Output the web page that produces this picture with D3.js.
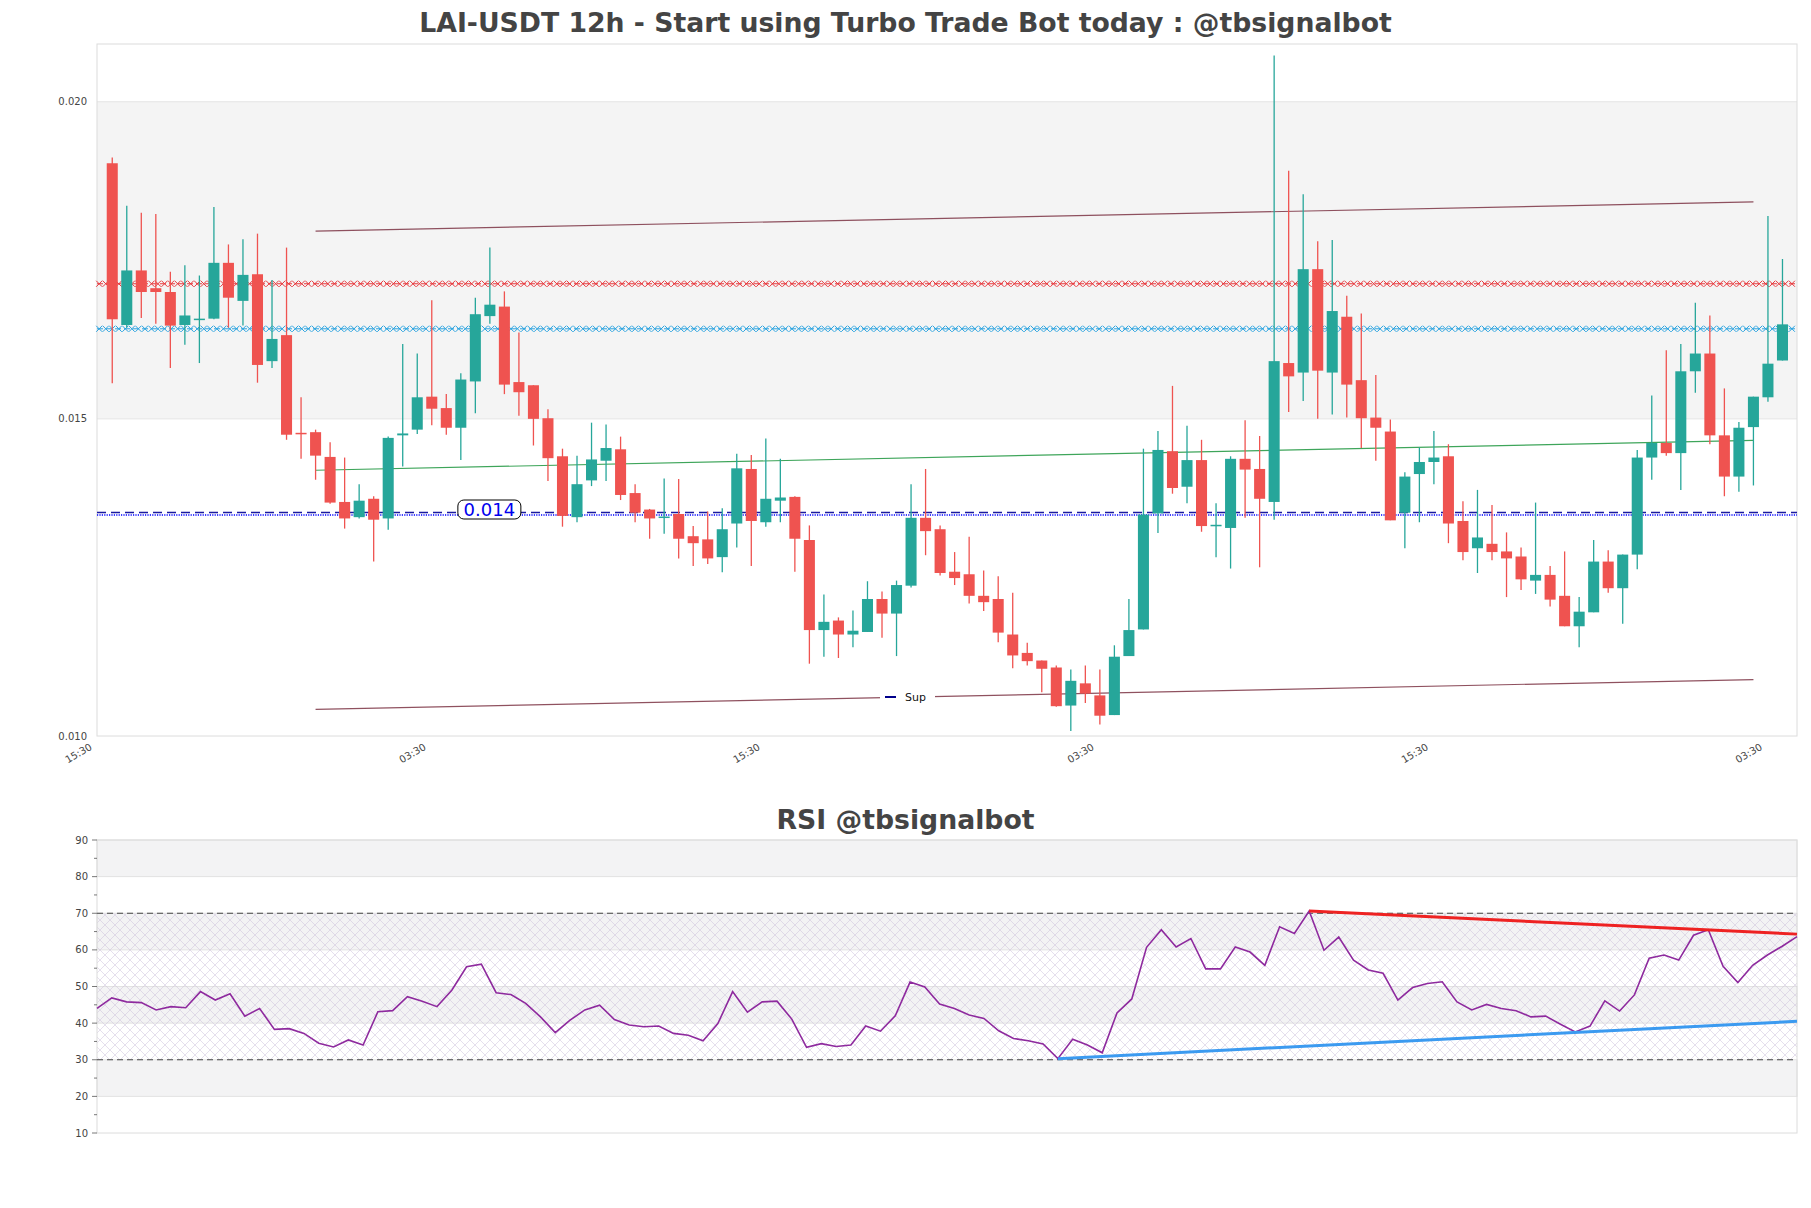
<!DOCTYPE html>
<head>
<meta charset="utf-8">
<style>
body { margin: 0; background: #fff; }
text { font-family: "DejaVu Sans", sans-serif; }
</style>
</head>
<body>
<script src="https://d3js.org/d3.v7.min.js"></script>
<script>
// figure size
var width = 1811;
var height = 1208;

// candle data, 12h, oldest first
var opens = [0.01903,0.01648,0.01734,0.01706,0.01700,0.01648,0.01656,0.01658,0.01746,0.01686,
  0.01728,0.01591,0.01632,0.01478,0.01479,0.01440,0.01369,0.01345,0.01374,0.01343,
  0.01474,0.01483,0.01535,0.01517,0.01486,0.01559,0.01662,0.01677,0.01558,0.01553,
  0.01501,0.01441,0.01345,0.01403,0.01434,0.01452,0.01383,0.01357,0.01344,0.01350,
  0.01315,0.01310,0.01282,0.01335,0.01421,0.01337,0.01371,0.01377,0.01309,0.01167,
  0.01182,0.01160,0.01164,0.01216,0.01193,0.01237,0.01344,0.01326,0.01259,0.01255,
  0.01221,0.01216,0.01160,0.01131,0.01119,0.01108,0.01048,0.01083,0.01064,0.01033,
  0.01126,0.01168,0.01351,0.01449,0.01393,0.01435,0.01331,0.01328,0.01437,0.01421,
  0.01369,0.01588,0.01573,0.01736,0.01573,0.01661,0.01561,0.01502,0.01480,0.01352,
  0.01413,0.01432,0.01441,0.01339,0.01296,0.01303,0.01291,0.01283,0.01245,0.01254,
  0.01221,0.01173,0.01195,0.01275,0.01233,0.01286,0.01439,0.01462,0.01446,0.01575,
  0.01603,0.01474,0.01409,0.01487,0.01534,0.01592];
var highs = [0.01912,0.01836,0.01825,0.01823,0.01732,0.01742,0.01726,0.01834,0.01775,0.01783,
  0.01792,0.01719,0.01770,0.01534,0.01483,0.01463,0.01439,0.01397,0.01378,0.01472,
  0.01618,0.01603,0.01687,0.01539,0.01572,0.01691,0.01770,0.01701,0.01636,0.01553,
  0.01515,0.01453,0.01442,0.01494,0.01491,0.01472,0.01397,0.01358,0.01406,0.01405,
  0.01331,0.01354,0.01359,0.01445,0.01443,0.01469,0.01437,0.01378,0.01332,0.01223,
  0.01187,0.01198,0.01244,0.01228,0.01245,0.01397,0.01421,0.01332,0.01290,0.01314,
  0.01261,0.01252,0.01226,0.01147,0.01119,0.01111,0.01105,0.01111,0.01105,0.01143,
  0.01216,0.01453,0.01481,0.01552,0.01489,0.01467,0.01367,0.01441,0.01498,0.01473,
  0.02073,0.01891,0.01854,0.01780,0.01782,0.01694,0.01666,0.01569,0.01499,0.01416,
  0.01455,0.01481,0.01460,0.01370,0.01388,0.01364,0.01321,0.01297,0.01368,0.01268,
  0.01291,0.01219,0.01309,0.01293,0.01286,0.01451,0.01537,0.01608,0.01618,0.01683,
  0.01663,0.01548,0.01495,0.01535,0.01820,0.01752];
var lows = [0.01556,0.01644,0.01659,0.01650,0.01580,0.01617,0.01588,0.01657,0.01644,0.01647,
  0.01557,0.01580,0.01467,0.01437,0.01404,0.01366,0.01327,0.01343,0.01275,0.01325,
  0.01425,0.01476,0.01490,0.01475,0.01435,0.01509,0.01650,0.01539,0.01505,0.01458,
  0.01402,0.01330,0.01337,0.01394,0.01402,0.01372,0.01337,0.01311,0.01319,0.01280,
  0.01268,0.01271,0.01258,0.01297,0.01268,0.01330,0.01337,0.01259,0.01114,0.01125,
  0.01123,0.01140,0.01164,0.01155,0.01126,0.01234,0.01285,0.01253,0.01238,0.01209,
  0.01197,0.01148,0.01107,0.01111,0.01069,0.01046,0.01008,0.01052,0.01018,0.01033,
  0.01126,0.01168,0.01320,0.01382,0.01367,0.01322,0.01282,0.01264,0.01344,0.01266,
  0.01341,0.01511,0.01528,0.01500,0.01507,0.01502,0.01454,0.01434,0.01340,0.01296,
  0.01337,0.01397,0.01304,0.01277,0.01257,0.01277,0.01219,0.01230,0.01224,0.01204,
  0.01173,0.01140,0.01195,0.01226,0.01177,0.01263,0.01404,0.01442,0.01388,0.01541,
  0.01460,0.01378,0.01385,0.01395,0.01527,0.01592];
var closes = [0.01657,0.01734,0.01700,0.01700,0.01647,0.01663,0.01658,0.01746,0.01691,0.01727,
  0.01585,0.01626,0.01475,0.01476,0.01442,0.01368,0.01343,0.01371,0.01341,0.01470,
  0.01477,0.01534,0.01516,0.01486,0.01562,0.01665,0.01680,0.01554,0.01542,0.01500,
  0.01438,0.01347,0.01397,0.01436,0.01454,0.01380,0.01352,0.01343,0.01346,0.01311,
  0.01304,0.01280,0.01326,0.01422,0.01339,0.01374,0.01376,0.01311,0.01167,0.01180,
  0.01160,0.01166,0.01216,0.01193,0.01238,0.01344,0.01323,0.01257,0.01249,0.01221,
  0.01211,0.01163,0.01127,0.01118,0.01106,0.01047,0.01087,0.01067,0.01032,0.01125,
  0.01167,0.01349,0.01451,0.01391,0.01435,0.01331,0.01333,0.01437,0.01420,0.01374,
  0.01591,0.01567,0.01736,0.01576,0.01670,0.01554,0.01501,0.01486,0.01340,0.01409,
  0.01432,0.01439,0.01335,0.01290,0.01313,0.01290,0.01280,0.01247,0.01254,0.01215,
  0.01173,0.01196,0.01275,0.01233,0.01286,0.01439,0.01462,0.01446,0.01575,0.01603,
  0.01474,0.01409,0.01486,0.01535,0.01587,0.01649];

// rsi values, one per candle
var rsi = [44.0,46.9,45.8,45.6,43.6,44.5,44.2,48.6,46.3,48.0,
  41.9,44.0,38.3,38.5,37.2,34.5,33.5,35.4,34.0,43.1,
  43.4,47.2,46.0,44.5,49.0,55.4,56.1,48.3,47.8,45.4,
  41.7,37.4,40.8,43.6,44.9,41.0,39.5,39.0,39.2,37.2,
  36.7,35.2,39.9,48.6,43.0,45.8,46.0,41.1,33.4,34.4,
  33.6,34.0,39.2,37.8,42.0,51.2,49.9,45.2,44.0,42.2,
  41.3,37.9,35.8,35.2,34.3,30.3,35.6,34.0,31.9,42.8,
  46.6,60.7,65.5,60.8,63.1,54.8,54.8,60.8,59.4,55.8,
  66.3,64.5,70.6,59.9,63.5,57.2,54.5,53.6,46.3,49.7,
  50.8,51.3,45.8,43.6,45.1,44.0,43.4,41.7,41.9,39.7,
  37.6,39.2,46.1,43.3,47.7,57.7,58.6,57.2,64.0,65.5,
  55.5,51.1,55.8,58.6,61.0,63.6];

// horizontal levels and trend lines (candle index, price)
var resistLevel = 0.01713;
var resistLevel2 = 0.01642;
var supportLevel = 0.01350;
var supportLabel = '0.014';
var upperChannel = [[14, 0.01796], [113, 0.01842]];
var lowerChannel = [[14, 0.01042], [113, 0.01089]];
var midLine = [[14, 0.01419], [113, 0.01466]];
var rsiHighLine = [[82, 70.6], [115, 64.3]];
var rsiLowLine = [[65, 30.3], [115, 40.5]];

var yTicks = [0.010, 0.015, 0.020];
var xTickIdx = [-1, 22, 45, 68, 91, 114];
var xTickLabels = ['15:30', '03:30', '15:30', '03:30', '15:30', '03:30'];
var rsiTicks = [10, 20, 30, 40, 50, 60, 70, 80, 90];

var plot = { left: 97, right: 1797, top: 44, bottom: 736 };
var rsiPlot = { left: 97, right: 1797, top: 840, bottom: 1133 };

var upColor = '#26a69a', downColor = '#ef5350';

var svg = d3.select('body').append('svg')
  .attr('width', width).attr('height', height)
  .style('background', '#fff');

var defs = svg.append('defs');
var hatch = defs.append('pattern')
  .attr('id', 'hatch').attr('patternUnits', 'userSpaceOnUse')
  .attr('width', 10).attr('height', 10);
hatch.append('path').attr('d', 'M0,0L10,10M10,0L0,10M-1,9L1,11M9,-1L11,1')
  .attr('stroke', '#c9bcd9').attr('stroke-width', 0.6).attr('fill', 'none');

var xScale = d3.scaleLinear().domain([-1.05, 116.0]).range([plot.left, plot.right]);
var yScale = d3.scaleLinear().domain([0.010, 0.02091]).range([plot.bottom, plot.top]);
var xr = d3.scaleLinear().domain([0, rsi.length - 1]).range([rsiPlot.left, rsiPlot.right]);
var yr = d3.scaleLinear().domain([10, 90]).range([rsiPlot.bottom, rsiPlot.top]);

// ---------- price panel ----------
svg.append('text')
  .attr('x', width / 2).attr('y', 32)
  .attr('text-anchor', 'middle')
  .attr('font-size', 26.7).attr('font-weight', 'bold').attr('fill', '#444')
  .text('LAI-USDT 12h - Start using Turbo Trade Bot today : @tbsignalbot');

svg.append('rect')
  .attr('x', plot.left).attr('y', yScale(0.020))
  .attr('width', plot.right - plot.left)
  .attr('height', yScale(0.015) - yScale(0.020))
  .attr('fill', '#f4f4f4');
svg.append('g').selectAll('line').data([0.015, 0.020]).enter().append('line')
  .attr('x1', plot.left).attr('x2', plot.right)
  .attr('y1', function(d){ return yScale(d); }).attr('y2', function(d){ return yScale(d); })
  .attr('stroke', '#e4e4e4').attr('stroke-width', 1);

svg.append('rect')
  .attr('x', plot.left).attr('y', plot.top)
  .attr('width', plot.right - plot.left).attr('height', plot.bottom - plot.top)
  .attr('fill', 'none').attr('stroke', '#dcdcdc');

// y labels
svg.append('g').selectAll('text').data(yTicks).enter().append('text')
  .attr('x', plot.left - 10)
  .attr('y', function(d){ return yScale(d) + 3.5; })
  .attr('text-anchor', 'end').attr('font-size', 10).attr('fill', '#444')
  .text(function(d){ return d3.format('.3f')(d); });

// x labels
svg.append('g').selectAll('text').data(xTickIdx).enter().append('text')
  .attr('transform', function(d){ return 'translate(' + (xScale(d) - 5) + ',' + 749 + ') rotate(-30)'; })
  .attr('text-anchor', 'end').attr('font-size', 10).attr('fill', '#444')
  .text(function(d, i){ return xTickLabels[i]; });

// level lines with x markers
function markerLine(level, color) {
  var y = yScale(level);
  var g = svg.append('g');
  g.append('line')
    .attr('x1', plot.left).attr('x2', plot.right).attr('y1', y).attr('y2', y)
    .attr('stroke', color).attr('stroke-width', 1).attr('stroke-dasharray', '6,3');
  var pts = d3.range(-0.9, 115.95, 0.45);
  g.selectAll('path').data(pts).enter().append('path')
    .attr('d', function(d){
      var x = xScale(d);
      return 'M' + (x - 3) + ',' + (y - 3) + 'L' + (x + 3) + ',' + (y + 3) +
        'M' + (x - 3) + ',' + (y + 3) + 'L' + (x + 3) + ',' + (y - 3);
    })
    .attr('stroke', color).attr('stroke-width', 1).attr('fill', 'none');
}
markerLine(resistLevel, '#e8383d');
markerLine(resistLevel2, '#2aa3e0');

// support level: dashed + dotted
svg.append('line')
  .attr('x1', plot.left).attr('x2', plot.right)
  .attr('y1', yScale(supportLevel) - 1.5).attr('y2', yScale(supportLevel) - 1.5)
  .attr('stroke', '#1a1aa0').attr('stroke-width', 1.3).attr('stroke-dasharray', '9,5');
svg.append('line')
  .attr('x1', plot.left).attr('x2', plot.right)
  .attr('y1', yScale(supportLevel) + 1).attr('y2', yScale(supportLevel) + 1)
  .attr('stroke', '#0000ff').attr('stroke-width', 1.6).attr('stroke-dasharray', '1.2,1.2');

// channel lines
var priceLine = d3.line()
  .x(function(d){ return xScale(d[0]); })
  .y(function(d){ return yScale(d[1]); });
[upperChannel, lowerChannel].forEach(function(l){
  svg.append('path').attr('d', priceLine(l))
    .attr('fill', 'none').attr('stroke', '#7b3343').attr('stroke-width', 1.2).attr('opacity', 0.85);
});
svg.append('path').attr('d', priceLine(midLine))
  .attr('fill', 'none').attr('stroke', '#3ea55a').attr('stroke-width', 1.2);

// candles
var candles = d3.range(opens.length);
var bodyW = xScale(0.38) - xScale(0);
var cg = svg.append('g');
cg.selectAll('line').data(candles).enter().append('line')
  .attr('x1', function(i){ return xScale(i); }).attr('x2', function(i){ return xScale(i); })
  .attr('y1', function(i){ return yScale(highs[i]); })
  .attr('y2', function(i){ return yScale(lows[i]); })
  .attr('stroke', function(i){ return closes[i] >= opens[i] ? upColor : downColor; })
  .attr('stroke-width', 1.3);
cg.selectAll('rect').data(candles).enter().append('rect')
  .attr('x', function(i){ return xScale(i) - bodyW; })
  .attr('width', bodyW * 2)
  .attr('y', function(i){ return yScale(Math.max(opens[i], closes[i])); })
  .attr('height', function(i){
    return Math.max(1.5, yScale(Math.min(opens[i], closes[i])) - yScale(Math.max(opens[i], closes[i])));
  })
  .attr('fill', function(i){ return closes[i] >= opens[i] ? upColor : downColor; });

// support label
var lx = xScale(26), ly = yScale(supportLevel) - 4.5;
svg.append('rect')
  .attr('x', lx - 32).attr('y', ly - 9.5).attr('width', 63).attr('height', 19)
  .attr('rx', 6).attr('fill', '#fff').attr('stroke', '#000').attr('stroke-width', 1);
svg.append('text')
  .attr('x', lx - 0.5).attr('y', ly + 6.5)
  .attr('text-anchor', 'middle').attr('font-size', 18).attr('fill', '#0000ee')
  .text(supportLabel);

// legend
var lg = svg.append('g').attr('transform', 'translate(880,684)');
lg.append('rect').attr('width', 55).attr('height', 24).attr('fill', '#fff');
lg.append('line').attr('x1', 5).attr('x2', 16).attr('y1', 13).attr('y2', 13)
  .attr('stroke', '#00008b').attr('stroke-width', 2);
lg.append('text').attr('x', 25).attr('y', 16.5).attr('font-size', 11).attr('fill', '#111').text('Sup');

// ---------- RSI panel ----------
svg.append('text')
  .attr('x', width / 2).attr('y', 829)
  .attr('text-anchor', 'middle')
  .attr('font-size', 26.7).attr('font-weight', 'bold').attr('fill', '#444')
  .text('RSI @tbsignalbot');

var bands = [[80, 90], [60, 70], [40, 50], [20, 30]];
svg.append('g').selectAll('rect').data(bands).enter().append('rect')
  .attr('x', rsiPlot.left).attr('width', rsiPlot.right - rsiPlot.left)
  .attr('y', function(d){ return yr(d[1]); })
  .attr('height', function(d){ return yr(d[0]) - yr(d[1]); })
  .attr('fill', '#f3f3f4').attr('stroke', '#e2e2e2').attr('stroke-width', 1);
svg.append('rect')
  .attr('x', rsiPlot.left).attr('width', rsiPlot.right - rsiPlot.left)
  .attr('y', yr(70)).attr('height', yr(30) - yr(70))
  .attr('fill', 'url(#hatch)').attr('opacity', 0.8);

svg.append('rect')
  .attr('x', rsiPlot.left).attr('y', rsiPlot.top)
  .attr('width', rsiPlot.right - rsiPlot.left).attr('height', rsiPlot.bottom - rsiPlot.top)
  .attr('fill', 'none').attr('stroke', '#dcdcdc');

svg.append('g').selectAll('line').data([30, 70]).enter().append('line')
  .attr('x1', rsiPlot.left).attr('x2', rsiPlot.right)
  .attr('y1', function(d){ return yr(d); }).attr('y2', function(d){ return yr(d); })
  .attr('stroke', '#444').attr('stroke-width', 1.1).attr('stroke-dasharray', '6,4');

// rsi axis
svg.append('g').selectAll('line').data(d3.range(10, 91, 5)).enter().append('line')
  .attr('x1', function(d){ return d % 10 === 0 ? rsiPlot.left - 5 : rsiPlot.left - 3; })
  .attr('x2', rsiPlot.left)
  .attr('y1', function(d){ return yr(d); }).attr('y2', function(d){ return yr(d); })
  .attr('stroke', '#555').attr('stroke-width', 0.8);
svg.append('g').selectAll('text').data(rsiTicks).enter().append('text')
  .attr('x', rsiPlot.left - 9)
  .attr('y', function(d){ return yr(d) + 3.5; })
  .attr('text-anchor', 'end').attr('font-size', 10).attr('fill', '#444')
  .text(function(d){ return d; });

var rsiLine = d3.line()
  .x(function(d, i){ return xr(i); })
  .y(function(d){ return yr(d); });
svg.append('path').attr('d', rsiLine(rsi))
  .attr('fill', 'none').attr('stroke', '#8e2a9e').attr('stroke-width', 1.6);

var trendLine = d3.line()
  .x(function(d){ return xr(d[0]); })
  .y(function(d){ return yr(d[1]); });
svg.append('path').attr('d', trendLine(rsiHighLine))
  .attr('fill', 'none').attr('stroke', '#ee2222').attr('stroke-width', 3);
svg.append('path').attr('d', trendLine(rsiLowLine))
  .attr('fill', 'none').attr('stroke', '#3b9af0').attr('stroke-width', 3);
</script>
</body>
